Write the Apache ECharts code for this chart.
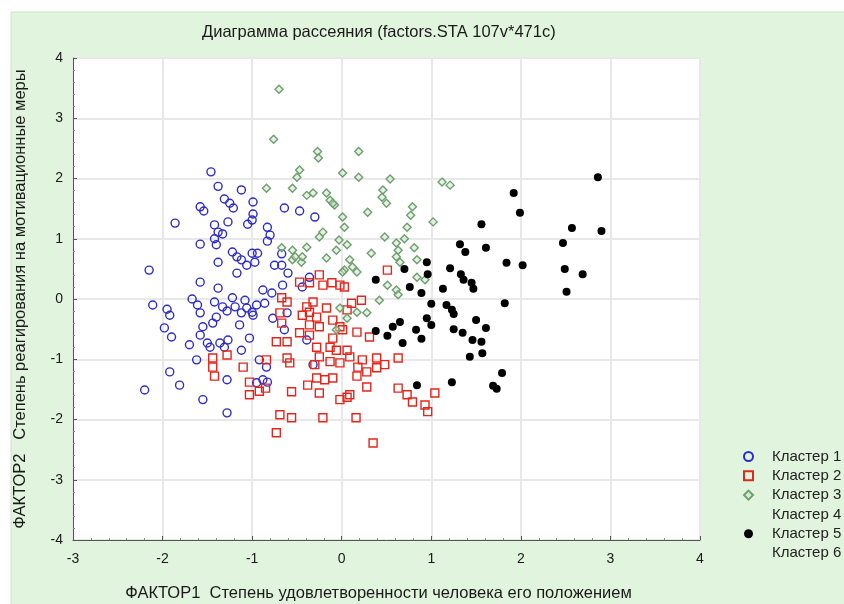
<!DOCTYPE html>
<html>
<head>
<meta charset="utf-8">
<title>Диаграмма рассеяния</title>
<script src="https://cdn.jsdelivr.net/npm/echarts@6.0.0/dist/echarts.min.js"></script>
<style>
html,body{margin:0;padding:0;background:#ffffff;}
#chartmain{width:844px;height:604px;}
</style>
</head>
<body>
<div id="chartmain"></div>
<script>
var titleText = 'Диаграмма рассеяния (factors.STA 107v*471c)';
var xName = 'ФАКТОР1  Степень удовлетворенности человека его положением';
var yName = 'ФАКТОР2   Степень реагирования на мотивационные меры';
var clusterNames = ['Кластер 1', 'Кластер 2', 'Кластер 3', 'Кластер 4', 'Кластер 5', 'Кластер 6'];
var xTicks = [-3, -2, -1, 0, 1, 2, 3, 4];
var yTicks = [-4, -3, -2, -1, 0, 1, 2, 3, 4];

// Кластер 1 - синие кружки
var cluster1 = [
	[-1.46,2.11],[-1.38,1.87],[-1.12,1.81],[-1.58,1.53],[-1.54,1.46],[-1.31,1.66],[-1.25,1.59],[-1.21,1.51],
	[-0.99,1.61],[-0.99,1.41],[-1.00,1.31],[-1.05,1.24],[-1.27,1.28],[-1.86,1.26],[-1.42,1.23],[-1.38,1.11],
	[-1.33,1.08],[-1.42,1.00],[-1.40,0.90],[-1.58,0.91],[-0.83,1.19],[-0.80,1.06],[-0.83,0.96],[-0.64,1.51],
	[-0.47,1.46],[-0.30,1.36],[-0.67,0.75],[-1.22,0.78],[-1.17,0.70],[-1.12,0.65],[-1.00,0.76],[-0.94,0.76],
	[-0.97,0.61],[-1.06,0.56],[-1.17,0.43],[-1.38,0.61],[-2.15,0.48],[-0.75,0.56],[-0.67,0.56],[-0.60,0.43],
	[-0.36,0.36],[-1.58,0.28],[-1.38,0.18],[-2.11,-0.10],[-1.95,-0.17],[-1.92,-0.27],[-1.67,0.00],[-1.61,-0.10],
	[-1.58,-0.23],[-1.42,-0.05],[-1.33,-0.13],[-1.28,-0.20],[-1.40,-0.30],[-1.44,-0.40],[-1.55,-0.46],[-1.22,0.02],
	[-1.08,-0.02],[-1.12,-0.23],[-1.14,-0.43],[-1.00,-0.22],[-0.95,-0.10],[-0.86,-0.07],[-0.88,0.15],[-0.78,0.10],
	[-0.66,0.23],[-0.44,0.20],[-1.98,-0.48],[-1.90,-0.63],[-1.70,-0.76],[-1.58,-0.60],[-1.47,-0.80],[-1.27,-0.68],
	[-1.31,-0.80],[-1.62,-1.01],[-1.92,-1.21],[-1.81,-1.43],[-2.20,-1.51],[-1.55,-1.67],[-1.28,-1.89],[-1.28,-1.34],
	[-1.12,-0.85],[-1.03,-0.65],[-0.92,-1.01],[-0.83,-1.38],[-0.64,-0.51],[-0.61,-0.23],[-0.39,-0.68],[-0.99,-0.27],
	[-0.77,-0.32],[-0.32,-1.09],[-1.19,-0.13],[-1.06,-0.15],[-1.36,-0.73],[-1.50,-0.73],[-0.84,-1.13],[-0.95,-1.39],
	[-0.88,-1.34]
];
// Кластер 2 - красные квадраты
var cluster2 = [
	[-0.25,0.40],[-0.47,0.28],[-0.36,0.27],[-0.21,0.23],[-0.02,0.23],[0.03,0.20],[-0.11,0.27],[0.51,0.48],
	[-0.32,-0.05],[-0.36,-0.22],[-0.44,-0.27],[-0.28,-0.30],[-0.17,-0.15],[-0.10,-0.35],[-0.02,-0.46],[0.06,-0.18],
	[0.11,-0.07],[0.22,-0.02],[-0.39,-0.13],[-0.67,0.02],[-0.61,-0.05],[-0.69,-0.23],[-0.67,-0.40],[-0.73,-0.71],
	[-0.61,-0.71],[-0.47,-0.56],[-0.36,-0.60],[-0.13,-0.80],[-0.10,-0.65],[-0.28,-0.80],[-0.25,-0.96],[-0.13,-1.04],
	[-0.02,-1.06],[0.06,-0.85],[-0.28,-1.31],[-0.10,-1.31],[-0.38,-1.43],[-0.25,-1.56],[-0.02,-1.67],[0.06,-1.63],
	[-0.58,-1.06],[-0.61,-0.98],[-0.84,-1.01],[-1.10,-1.13],[-1.44,-0.98],[-1.44,-1.13],[-1.42,-1.28],[-1.28,-0.93],
	[-1.03,-1.38],[-1.03,-1.59],[-0.92,-1.53],[-0.56,-1.54],[-0.69,-1.92],[-0.56,-1.97],[-0.21,-1.97],[-0.73,-2.22],
	[0.01,-0.51],[0.17,-0.55],[0.31,-0.63],[-0.06,-0.85],[0.09,-0.96],[0.23,-1.01],[0.39,-0.98],[0.48,-1.09],
	[0.63,-0.98],[0.18,-1.13],[0.28,-1.21],[0.39,-1.14],[-0.30,-1.09],[-0.19,-1.34],[0.17,-1.28],[0.28,-1.46],
	[0.09,-1.59],[0.63,-1.48],[0.73,-1.59],[0.79,-1.71],[0.93,-1.76],[1.04,-1.56],[0.96,-1.87],[0.16,-1.97],
	[0.35,-2.39],[-0.85,-1.48],[-0.36,-0.43],[-0.25,-0.46]
];
// Кластер 3 - зелёные ромбы
var cluster3 = [
	[-0.70,3.48],[-0.76,2.65],[-0.84,1.84],[-0.27,2.45],[-0.26,2.34],[-0.47,2.14],[-0.50,2.02],[0.01,2.09],
	[-0.55,1.84],[-0.39,1.72],[-0.32,1.76],[-0.17,1.76],[-0.13,1.64],[-0.08,1.56],[0.01,1.36],[0.03,1.19],
	[-0.21,1.11],[-0.25,1.03],[-0.03,0.98],[-0.06,0.81],[-0.39,0.86],[-0.55,0.81],[-0.67,0.85],[-0.55,0.65],
	[-0.45,0.61],[-0.17,0.68],[0.03,0.48],[0.19,2.45],[0.19,2.02],[0.54,1.99],[1.12,1.94],[1.21,1.89],
	[-0.10,1.59],[0.46,1.81],[0.45,1.69],[0.50,1.59],[0.29,1.44],[0.79,1.53],[0.77,1.39],[1.02,1.28],
	[0.73,1.19],[0.48,1.03],[0.70,1.00],[0.61,0.93],[0.63,0.81],[0.81,0.85],[0.06,0.90],[0.33,0.76],
	[0.09,0.65],[0.12,0.53],[-0.44,0.70],[0.84,0.65],[0.65,0.61],[0.01,0.45],[0.17,0.45],[0.61,0.70],
	[0.84,0.36],[0.93,0.32],[0.51,0.23],[0.61,0.15],[0.42,-0.02],[0.63,0.07],[0.17,-0.22],[0.28,-0.23],
	[-0.02,-0.15],[0.06,-0.32],[-0.06,-0.51],[-0.52,0.70]
];
// Кластер 4 - нет точек
var cluster4 = [];
// Кластер 5 - чёрные точки
var cluster5 = [
	[2.86,2.02],[2.90,1.13],[1.92,1.76],[1.99,1.43],[2.57,1.18],[2.47,0.93],[1.56,1.24],[1.61,0.85],
	[1.32,0.91],[1.38,0.78],[1.84,0.60],[2.02,0.56],[2.49,0.50],[2.69,0.41],[2.51,0.12],[1.82,-0.07],
	[1.21,0.51],[1.33,0.41],[1.36,0.32],[1.45,0.27],[1.47,0.17],[1.23,-0.18],[1.25,-0.25],[1.50,-0.35],
	[1.61,-0.48],[1.25,-0.50],[1.35,-0.56],[1.46,-0.68],[1.56,-0.71],[1.57,-0.90],[1.43,-0.96],[1.79,-1.23],
	[1.69,-1.44],[1.73,-1.49],[1.23,-1.38],[0.95,0.61],[0.70,0.50],[0.96,0.41],[0.76,0.20],[0.89,0.10],
	[1.13,0.17],[0.38,0.32],[1.00,-0.08],[1.17,-0.10],[0.95,-0.32],[1.00,-0.43],[0.65,-0.38],[0.57,-0.46],
	[0.38,-0.53],[0.51,-0.61],[0.83,-0.51],[0.89,-0.66],[0.68,-0.73],[0.84,-1.43]
];
// Кластер 6 - нет точек
var cluster6 = [];

var clusterData = [cluster1, cluster2, cluster3, cluster4, cluster5, cluster6];
var clusterSymbol = ['circle', 'rect', 'diamond', 'none', 'circle', 'none'];
var clusterSize = [8, 8, 8, 0, 8, 0];
var clusterFill = ['rgba(255,255,255,0)', 'rgba(255,255,255,0)', 'rgba(200,230,200,0.5)', 'transparent', '#000000', 'transparent'];
var clusterBorder = ['#2c2cc8', '#e3261c', '#6e9e6e', 'transparent', '#000000', 'transparent'];

var fontName = '"Liberation Sans", Arial, sans-serif';

var seriesList = [];
var legendData = [];
for(var i=0;i<clusterNames.length;i++){
	seriesList.push({
		name: clusterNames[i],
		type: 'scatter',
		data: clusterData[i],
		symbol: clusterSymbol[i],
		symbolSize: clusterSize[i],
		itemStyle: {
			color: clusterFill[i],
			borderColor: clusterBorder[i],
			borderWidth: i==4 ? 0 : 1.4,
			opacity: 1
		},
		emphasis: {disabled: true},
		animation: false
	});
	var item = {name: clusterNames[i], icon: clusterSymbol[i]=='none' ? 'rect' : clusterSymbol[i]};
	if(clusterSymbol[i]=='none'){
		item.itemStyle = {color: 'transparent', borderColor: 'transparent', opacity: 0};
	}
	legendData.push(item);
}

var myChart = echarts.init(document.getElementById('chartmain'), null, {renderer: 'canvas'});
var option = {
	backgroundColor: '#ffffff',
	animation: false,
	graphic: [{
		type: 'rect',
		z: -10,
		shape: {x: 11, y: 12, width: 840, height: 600},
		style: {fill: '#e1f4dd', stroke: '#c9e6c4', lineWidth: 1}
	}],
	title: {
		text: titleText,
		left: 197,
		top: 19,
		textStyle: {fontFamily: fontName, fontSize: 16.5, fontWeight: 'normal', color: '#1a1a1a'}
	},
	legend: {
		orient: 'vertical',
		left: 738,
		top: 444,
		itemWidth: 9,
		itemHeight: 9,
		itemGap: 4.3,
		data: legendData,
		selectedMode: false,
		textStyle: {fontFamily: fontName, fontSize: 15, lineHeight: 15, color: '#222222', padding: [0, 0, 0, 14]}
	},
	grid: {
		left: 73,
		right: 144,
		top: 58,
		bottom: 64,
		outerBoundsMode: 'none',
		containLabel: false,
		show: true,
		backgroundColor: '#ffffff',
		borderColor: '#555555',
		borderWidth: 1
	},
	xAxis: {
		type: 'value',
		min: xTicks[0],
		max: xTicks[xTicks.length-1],
		interval: 1,
		name: xName,
		nameLocation: 'middle',
		nameGap: 45,
		nameTextStyle: {fontFamily: fontName, fontSize: 16.5, color: '#1a1a1a', padding: [0, 16, 0, 0]},
		axisLine: {show: true, onZero: false, lineStyle: {color: '#555555'}},
		axisTick: {show: true, inside: true, length: 4, lineStyle: {color: '#555555'}},
		minorTick: {show: true, splitNumber: 5, length: 2, lineStyle: {color: '#888888'}},
		axisLabel: {fontFamily: fontName, fontSize: 14, color: '#1a1a1a', margin: 12},
		splitLine: {show: true, lineStyle: {color: '#e8e8e8', width: 2}}
	},
	yAxis: {
		type: 'value',
		min: yTicks[0],
		max: yTicks[yTicks.length-1],
		interval: 1,
		name: yName,
		nameLocation: 'middle',
		nameRotate: 90,
		nameGap: 44,
		nameTextStyle: {fontFamily: fontName, fontSize: 16.5, color: '#1a1a1a'},
		axisLine: {show: true, onZero: false, lineStyle: {color: '#555555'}},
		axisTick: {show: true, inside: true, length: 4, lineStyle: {color: '#555555'}},
		minorTick: {show: true, splitNumber: 5, length: 2, lineStyle: {color: '#888888'}},
		axisLabel: {fontFamily: fontName, fontSize: 14, color: '#1a1a1a', margin: 10},
		splitLine: {show: true, lineStyle: {color: '#e8e8e8', width: 2}}
	},
	series: seriesList
};
myChart.setOption(option);
</script>
</body>
</html>
